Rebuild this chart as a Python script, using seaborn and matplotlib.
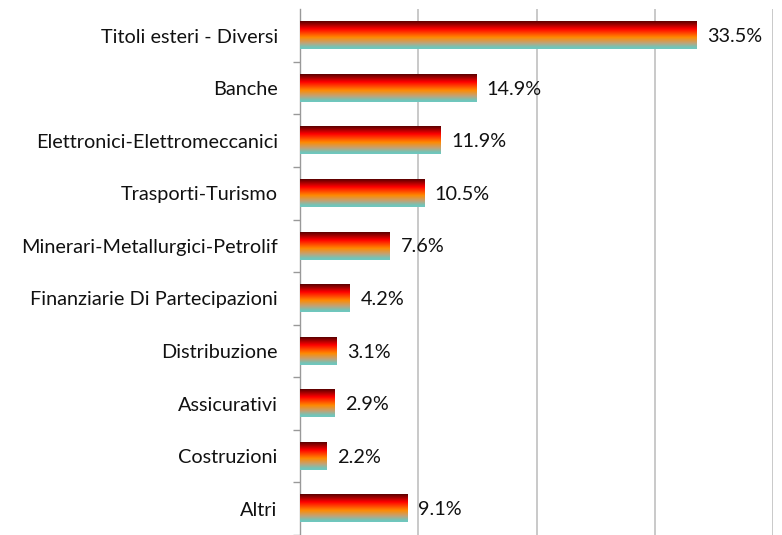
import numpy as np
import pandas as pd
import matplotlib
matplotlib.use("Agg")
import matplotlib.pyplot as plt
from matplotlib.colors import LinearSegmentedColormap
import seaborn as sns

# Data
categories = ["Titoli esteri - Diversi", "Banche", "Elettronici-Elettromeccanici",
              "Trasporti-Turismo", "Minerari-Metallurgici-Petrolif",
              "Finanziarie Di Partecipazioni", "Distribuzione", "Assicurativi",
              "Costruzioni", "Altri"]
values = [33.5, 14.9, 11.9, 10.5, 7.6, 4.2, 3.1, 2.9, 2.2, 9.1]

df = pd.DataFrame({"settore": categories, "peso": values})

sns.set_theme(style="white")
plt.rcParams["font.family"] = ["Lato", "DejaVu Sans"]

fig = plt.figure(figsize=(7.82, 5.35), dpi=100)
ax = fig.add_axes([300 / 782, 0, (773 - 300) / 782, (535 - 9.3) / 535])

sns.barplot(data=df, x="peso", y="settore", order=categories, orient="h",
            width=0.52, color="red", ax=ax)

# vertical gradient fill of the bars (dark red -> red -> orange -> teal)
grad_cmap = LinearSegmentedColormap.from_list(
    "bar_grad", [(0.0, "#580000"), (0.28, "#ff0000"), (0.58, "#ff8a00"),
                 (0.78, "#c4a274"), (0.93, "#74c4b8"), (1.0, "#6ec8c0")])
grad = np.linspace(0, 1, 256).reshape(-1, 1)
for p in ax.patches:
    x0, y0 = p.get_x(), p.get_y()
    w, h = p.get_width(), p.get_height()
    p.set_visible(False)
    ax.imshow(grad, cmap=grad_cmap, aspect="auto", origin="upper",
              extent=(x0, x0 + w, y0 + h, y0), zorder=3, interpolation="bilinear")

for i, v in enumerate(values):
    ax.text(v + 0.9, i + 0.02, f"{v:.1f}%", va="center", ha="left", fontsize=14.3,
            color="#111111", zorder=4)

ax.set_xlim(0, 40)
ax.set_ylim(9.404, -0.5)
ax.set_xticks([0, 10, 20, 30, 40])
ax.set_xticklabels([])
ax.grid(axis="x", color="#c0c0c0", linewidth=1.2)
ax.set_axisbelow(True)
ax.set_xlabel("")
ax.set_ylabel("")

ax.set_yticks(range(len(categories)))
ax.set_yticklabels(categories, fontsize=14.3, color="#111111")
ax.set_yticks(np.arange(0.5, len(categories), 1.0), minor=True)
ax.tick_params(axis="y", which="major", length=0, pad=16)
ax.tick_params(axis="y", which="minor", length=5, color="#999999", width=1, left=True)
ax.tick_params(axis="x", length=0)

for side in ["top", "right", "bottom"]:
    ax.spines[side].set_visible(False)
ax.spines["left"].set_color("#999999")
ax.spines["left"].set_linewidth(1.0)

fig.savefig("out.png", dpi=100)
